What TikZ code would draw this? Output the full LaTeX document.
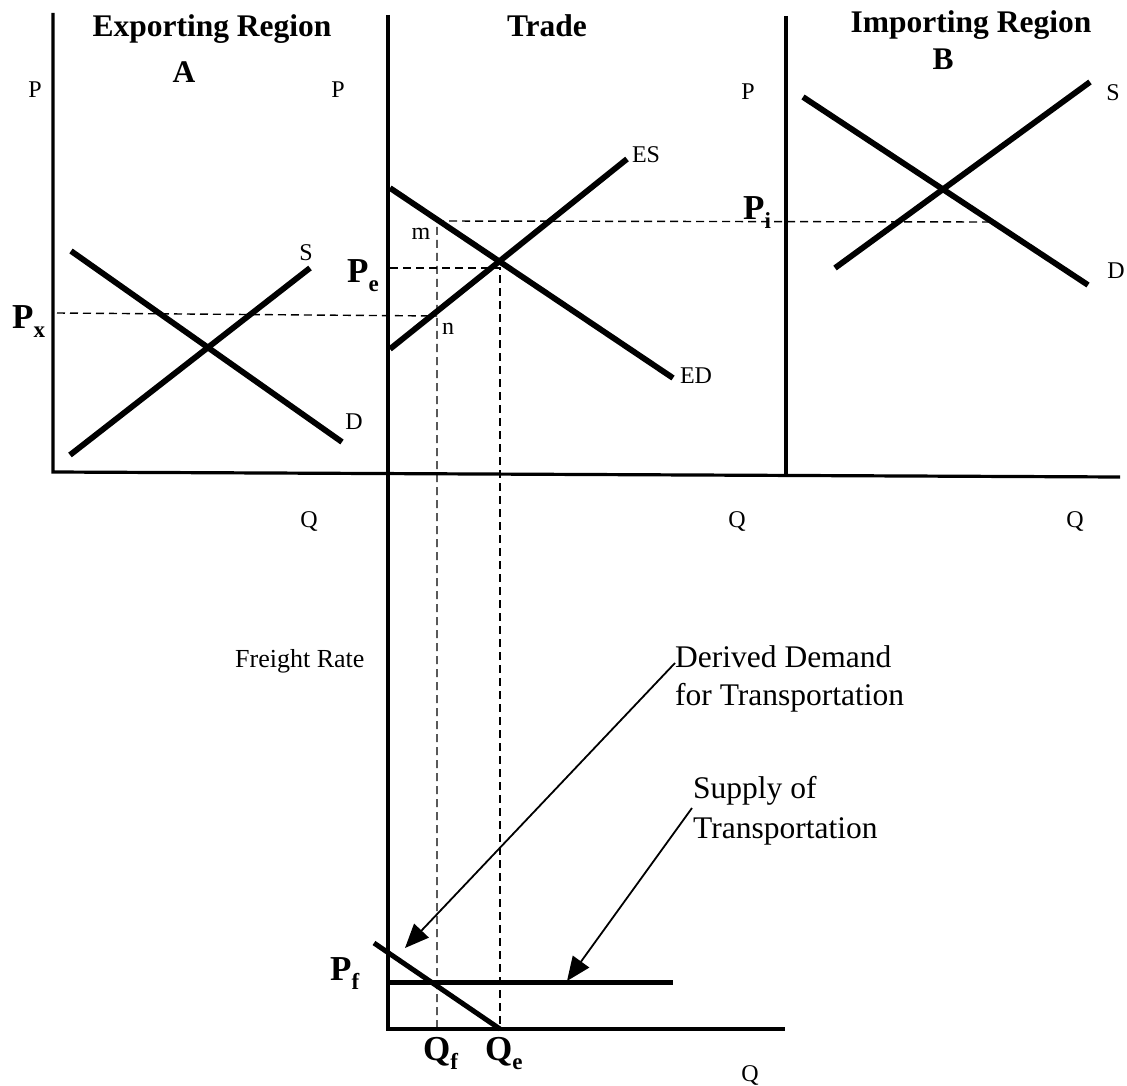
\documentclass[tikz,border=0pt]{standalone}
\usepackage{fontspec}
\setmainfont{Liberation Serif}
\usetikzlibrary{arrows.meta}
\newcommand{\BigSub}[2]{{\fontsize{35}{35}\selectfont\bfseries #1}\raisebox{-9pt}{\fontsize{23}{23}\selectfont\bfseries #2}}
\begin{document}
\begin{tikzpicture}[x=1pt,y=-1pt,
  axis/.style={line width=3.2pt},
  curve/.style={line width=5.8pt},
  guide/.style={line width=1.4pt, dash pattern=on 8pt off 5pt},
  pointer/.style={line width=1.8pt, -{Triangle[length=24pt,width=20pt]}},
  small/.style={inner sep=0pt, font=\fontsize{24}{24}\selectfont},
  note/.style={inner sep=0pt, anchor=base west, font=\fontsize{31.5}{31.5}\selectfont},
  title/.style={inner sep=0pt, anchor=base, font=\fontsize{31.5}{31.5}\selectfont\bfseries},
  sub/.style={inner sep=0pt, anchor=base west}]
\useasboundingbox (0,0) rectangle (1127,1086);
\fill[white] (0,0) rectangle (1127,1086);

% axes
\coordinate (LT) at (53,13);
\coordinate (O1) at (53,472);
\coordinate (XR) at (1120,477);
\coordinate (MT) at (388,15);
\coordinate (O2) at (388,1029);
\coordinate (RT) at (786,16);
\coordinate (RB) at (786,475);
\coordinate (BX) at (785,1029);
\draw[axis] (LT) -- (O1) -- (XR);
\draw[axis] (MT) -- (O2) -- (BX);
\draw[axis] (RT) -- (RB);

% curves
\coordinate (As1) at (70,455);  \coordinate (As2) at (310,268);
\coordinate (Ad1) at (71,251);  \coordinate (Ad2) at (342,442);
\coordinate (ES1) at (390,349); \coordinate (ES2) at (627,159);
\coordinate (ED1) at (390,188); \coordinate (ED2) at (673,378);
\coordinate (Bd1) at (803,97);  \coordinate (Bd2) at (1088,285);
\coordinate (Bs1) at (835,268); \coordinate (Bs2) at (1090,82);
\coordinate (FD1) at (374,943); \coordinate (FD2) at (500,1029);
\coordinate (FS1) at (388,982); \coordinate (FS2) at (673,982);
\draw[curve] (As1) -- (As2);
\draw[curve] (Ad1) -- (Ad2);
\draw[curve] (ES1) -- (ES2);
\draw[curve] (ED1) -- (ED2);
\draw[curve] (Bd1) -- (Bd2);
\draw[curve] (Bs1) -- (Bs2);
\draw[line width=5pt] (FD1) -- (FD2);
\draw[line width=5pt] (FS1) -- (FS2);

% guide lines
\coordinate (Px0) at (57,313);
\coordinate (npt) at (437,316);
\coordinate (Pe0) at (390,268);
\coordinate (Ept) at (500,268);
\coordinate (Qept) at (500,1029);
\coordinate (mpt) at (437,221);
\coordinate (Qfpt) at (437,1029);
\coordinate (Pi1) at (990,222);
\draw[guide] (Px0) -- (npt);
\draw[guide] (Pe0) -- (Ept) -- (Qept);
\draw[guide] (Pi1) -- (mpt) -- (Qfpt);

% pointers
\coordinate (ddstart) at (675,663);
\coordinate (ddtip) at (405,948);
\coordinate (ststart) at (692,808);
\coordinate (sttip) at (567,981);
\draw[pointer] (ddstart) -- (ddtip);
\draw[pointer] (ststart) -- (sttip);

% titles
\node[title] (tA) at (212,37) {Exporting Region};
\node[title] (tT) at (547,37) {Trade};
\node[title] (tB) at (971,33) {Importing Region};
\node[title] (A) at (184,83) {A};
\node[title] (B) at (943,70) {B};

% small labels
\node[small] (PA) at (35,90) {P};
\node[small] (PT) at (338,90) {P};
\node[small] (PB) at (748,92) {P};
\node[small] (SA) at (306,253) {S};
\node[small] (DA) at (354,422) {D};
\node[small] (ESl) at (646,155) {ES};
\node[small] (EDl) at (696,376) {ED};
\node[small] (SB) at (1113,93) {S};
\node[small] (DB) at (1116,271) {D};
\node[small] (ml) at (421,234) {m};
\node[small] (nl) at (448,329) {n};
\node[small] (QA) at (309,521) {Q};
\node[small] (QT) at (737,521) {Q};
\node[small] (QB) at (1075,521) {Q};
\node[small] (QF) at (750,1075) {Q};

% bold subscripted labels
\node[sub] (Px) at (12,328) {\BigSub{P}{x}};
\node[sub] (Pe) at (347,282) {\BigSub{P}{e}};
\node[sub] (Pi) at (743,220) {\BigSub{P}{i}};
\node[sub] (Pf) at (330,980) {\BigSub{P}{f}};
\node[sub] (Qf) at (423,1060) {\BigSub{Q}{f}};
\node[sub] (Qe) at (485,1060) {\BigSub{Q}{e}};

% notes
\node[inner sep=0pt, anchor=base west, font=\fontsize{26}{26}\selectfont] (FR) at (235,667) {Freight Rate};
\node[note] (dd1) at (675,667) {Derived Demand};
\node[note] (dd2) at (675,705) {for Transportation};
\node[note] (st1) at (693,798) {Supply of};
\node[note] (st2) at (693,838) {Transportation};
\end{tikzpicture}
\end{document}
